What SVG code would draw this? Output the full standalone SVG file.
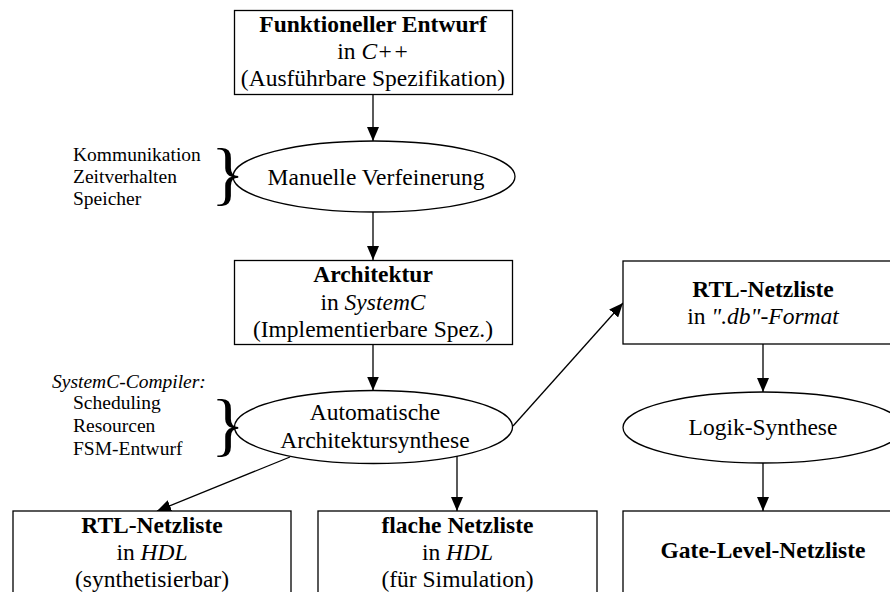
<svg xmlns="http://www.w3.org/2000/svg" width="890" height="592" viewBox="0 0 890 592">
  <style>
    .box { fill: #ffffff; stroke: #000000; stroke-width: 1.3; }
    .oval { fill: #ffffff; stroke: #000000; stroke-width: 1.3; }
    .edge { fill: none; stroke: #000000; stroke-width: 1.3; }
    text { font-family: "Liberation Serif", "Times New Roman", serif; fill: #000000; }
    .t { font-size: 23.5px; text-anchor: middle; }
    .b { font-weight: bold; }
    .i { font-style: italic; }
    .side { font-size: 19.5px; }
    .brace { font-size: 70px; }
  </style>
  <defs>
    <marker id="arrow" markerUnits="userSpaceOnUse" markerWidth="15" markerHeight="12" refX="14" refY="6" orient="auto">
      <path d="M0,0 L14,6 L0,12 Z" fill="#000000"/>
    </marker>
  </defs>
  <rect width="890" height="592" fill="#ffffff"/>

  <!-- connectors -->
  <g id="connectors">
    <line class="edge" x1="373" y1="94.5" x2="373" y2="141" marker-end="url(#arrow)"/>
    <line class="edge" x1="373" y1="212" x2="373" y2="260" marker-end="url(#arrow)"/>
    <line class="edge" x1="373" y1="345" x2="373" y2="390.5" marker-end="url(#arrow)"/>
    <line class="edge" x1="290" y1="457" x2="157" y2="511" marker-end="url(#arrow)"/>
    <line class="edge" x1="457" y1="456" x2="457" y2="511" marker-end="url(#arrow)"/>
    <line class="edge" x1="513" y1="426" x2="623" y2="303" marker-end="url(#arrow)"/>
    <line class="edge" x1="763" y1="344" x2="763" y2="392" marker-end="url(#arrow)"/>
    <line class="edge" x1="763" y1="463" x2="763" y2="511" marker-end="url(#arrow)"/>
  </g>

  <!-- functional design -->
  <g id="funktioneller-entwurf">
    <rect class="box" x="234.5" y="10.5" width="278" height="84"/>
    <text class="t b" x="373" y="32">Funktioneller Entwurf</text>
    <text class="t" x="373" y="59">in <tspan class="i">C++</tspan></text>
    <text class="t" x="373" y="86">(Ausführbare Spezifikation)</text>
  </g>

  <!-- manual refinement -->
  <g id="manuelle-verfeinerung">
    <ellipse class="oval" cx="374" cy="176.5" rx="141" ry="35.5"/>
    <text class="t" x="376" y="185">Manuelle Verfeinerung</text>
  </g>

  <g id="verfeinerung-aspekte">
    <text class="side" x="73" y="161">Kommunikation</text>
    <text class="side" x="73" y="183">Zeitverhalten</text>
    <text class="side" x="73" y="205">Speicher</text>
    <text class="brace" x="211" y="197">}</text>
  </g>

  <!-- architecture -->
  <g id="architektur">
    <rect class="box" x="234.5" y="260.5" width="278" height="84"/>
    <text class="t b" x="373" y="282">Architektur</text>
    <text class="t" x="373" y="309.5">in <tspan class="i">SystemC</tspan></text>
    <text class="t" x="373" y="337">(Implementierbare Spez.)</text>
  </g>

  <!-- automatic architecture synthesis -->
  <g id="architektursynthese">
    <ellipse class="oval" cx="373.5" cy="427" rx="139" ry="36.5"/>
    <text class="t" x="375" y="420">Automatische</text>
    <text class="t" x="375" y="448">Architektursynthese</text>
  </g>

  <g id="compiler-aufgaben">
    <text class="side i" x="52" y="388">SystemC-Compiler:</text>
    <text class="side" x="73" y="409">Scheduling</text>
    <text class="side" x="73" y="432">Resourcen</text>
    <text class="side" x="73" y="455">FSM-Entwurf</text>
    <text class="brace" x="211" y="448">}</text>
  </g>

  <!-- RTL netlist in .db format -->
  <g id="rtl-db">
    <rect class="box" x="623" y="261" width="280" height="83"/>
    <text class="t b" x="763" y="297">RTL-Netzliste</text>
    <text class="t" x="763" y="324">in <tspan class="i">".db"-Format</tspan></text>
  </g>

  <!-- logic synthesis -->
  <g id="logik-synthese">
    <ellipse class="oval" cx="763" cy="427.5" rx="140" ry="35.5"/>
    <text class="t" x="763" y="435">Logik-Synthese</text>
  </g>

  <!-- gate level netlist -->
  <g id="gate-level">
    <rect class="box" x="623" y="511" width="280" height="86"/>
    <text class="t b" x="763" y="558">Gate-Level-Netzliste</text>
  </g>

  <!-- RTL netlist in HDL -->
  <g id="rtl-hdl">
    <rect class="box" x="13" y="511" width="278" height="86"/>
    <text class="t b" x="152" y="533">RTL-Netzliste</text>
    <text class="t" x="152" y="560">in <tspan class="i">HDL</tspan></text>
    <text class="t" x="152" y="587">(synthetisierbar)</text>
  </g>

  <!-- flat netlist in HDL -->
  <g id="flache-netzliste">
    <rect class="box" x="318" y="511" width="279" height="86"/>
    <text class="t b" x="457.5" y="533">flache Netzliste</text>
    <text class="t" x="457.5" y="560">in <tspan class="i">HDL</tspan></text>
    <text class="t" x="457.5" y="587">(für Simulation)</text>
  </g>
</svg>
